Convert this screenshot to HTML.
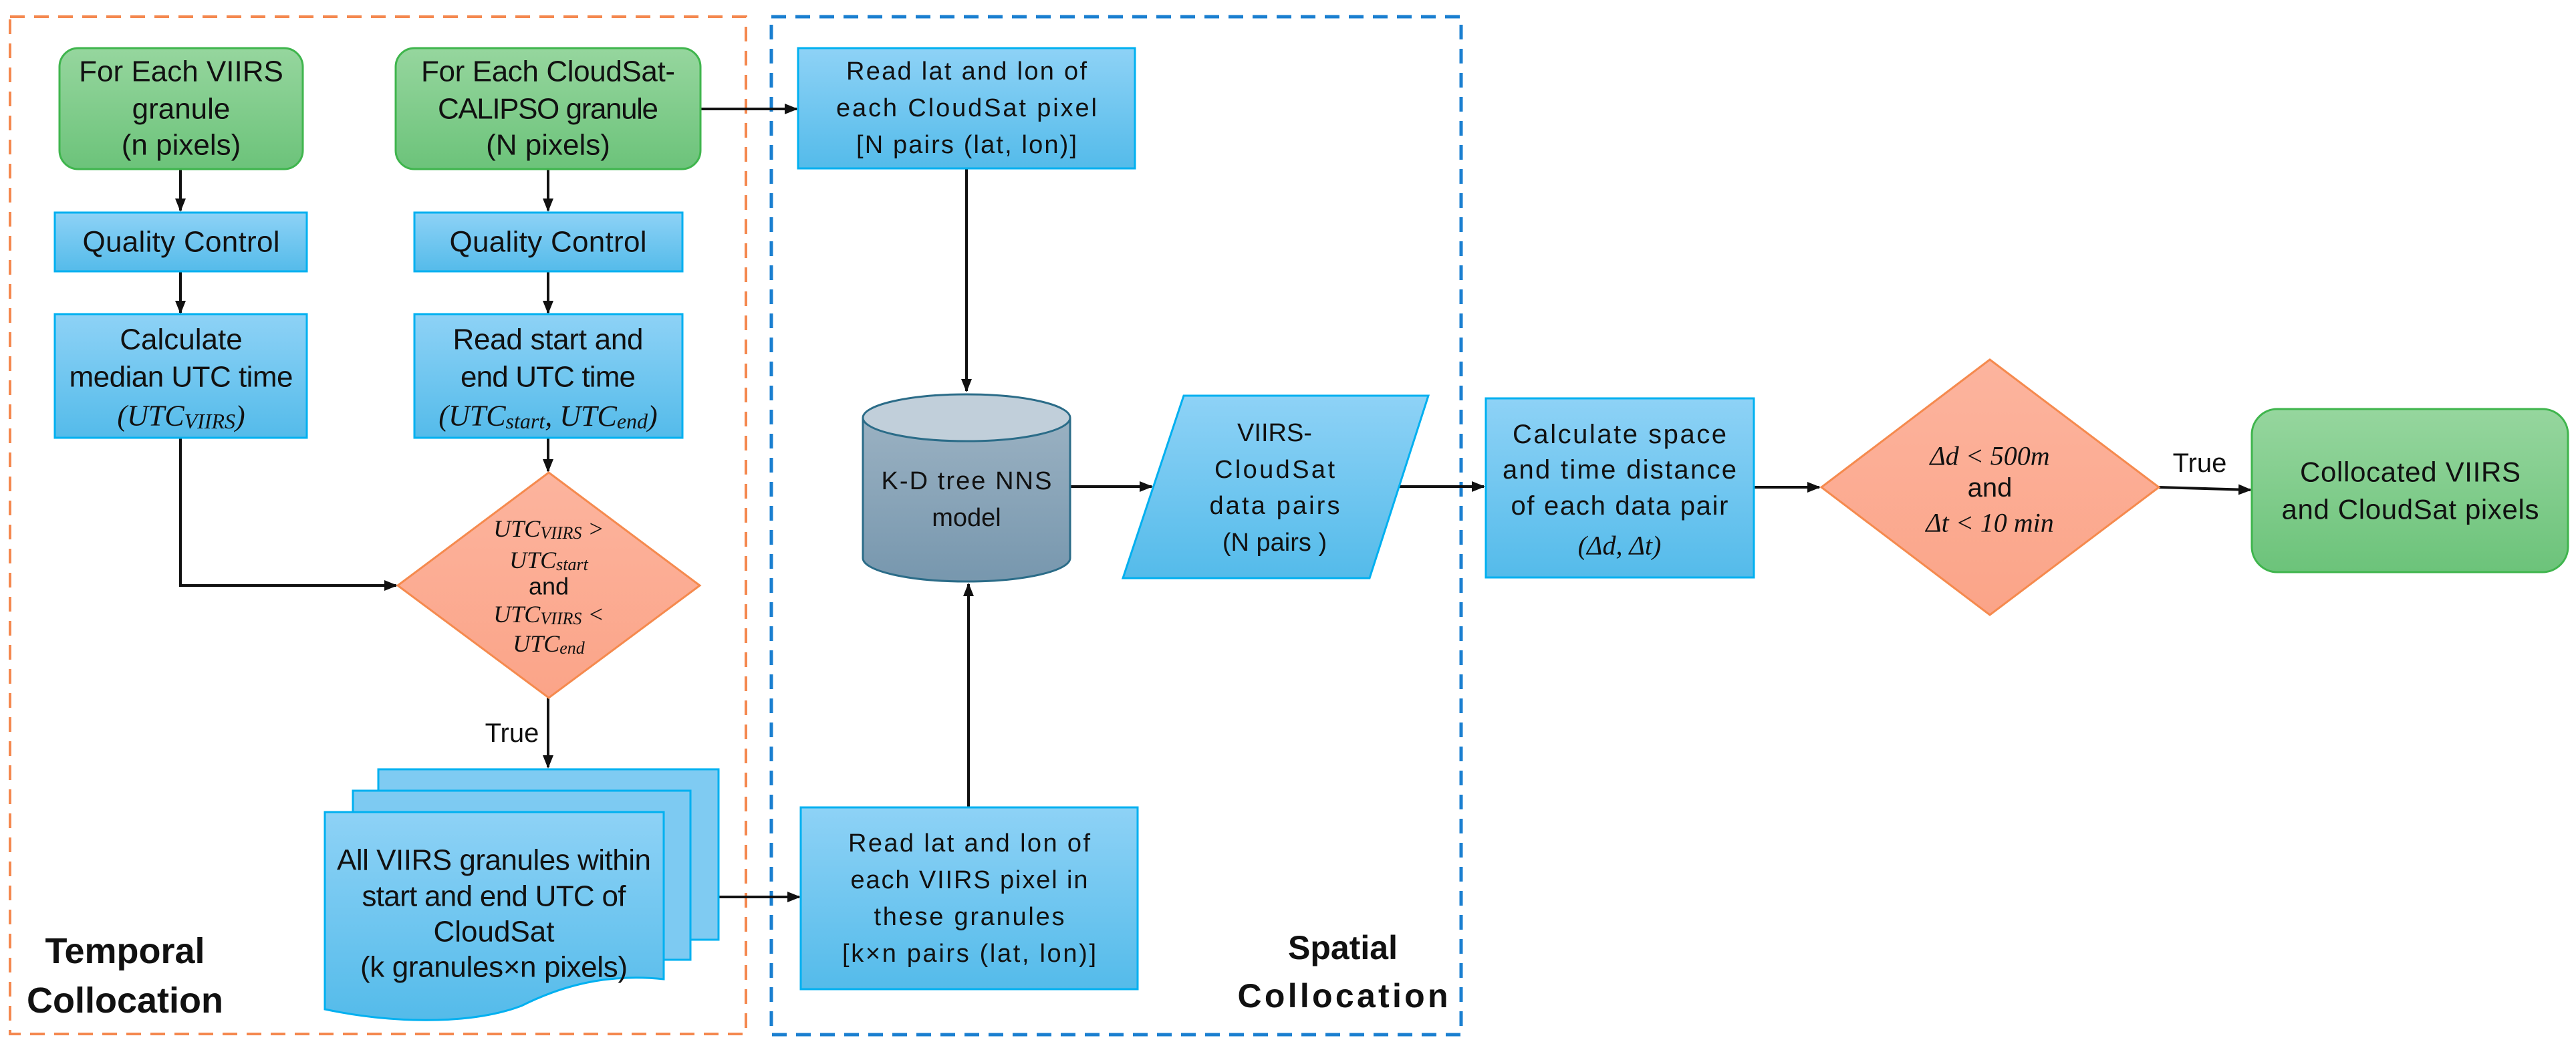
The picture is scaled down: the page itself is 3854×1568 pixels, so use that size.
<!DOCTYPE html>
<html><head><meta charset="utf-8"><style>
html,body{margin:0;padding:0;background:#fff;}
svg{display:block;}
text{font-family:"Liberation Sans",sans-serif;fill:#111;text-anchor:middle;dominant-baseline:central;}
.m{font-family:"Liberation Serif",serif;font-style:italic;}
</style></head><body>
<svg width="3854" height="1568" viewBox="0 0 3854 1568" xmlns="http://www.w3.org/2000/svg">
<defs>
<linearGradient id="gb" x1="0" y1="0" x2="0" y2="1"><stop offset="0" stop-color="#8ed2f6"/><stop offset="1" stop-color="#54bbea"/></linearGradient>
<linearGradient id="gg" x1="0" y1="0" x2="0" y2="1"><stop offset="0" stop-color="#96d69e"/><stop offset="1" stop-color="#6cc37a"/></linearGradient>
<linearGradient id="go" x1="0" y1="0" x2="0" y2="1"><stop offset="0" stop-color="#fcb49e"/><stop offset="1" stop-color="#fba488"/></linearGradient>
<linearGradient id="gc" x1="0" y1="0" x2="0" y2="1"><stop offset="0" stop-color="#9ab1c2"/><stop offset="1" stop-color="#7797ae"/></linearGradient>
<marker id="ar" viewBox="0 0 10 10" refX="9" refY="5" markerWidth="5" markerHeight="5" orient="auto"><path d="M0,1 L10,5 L0,9 z" fill="#111"/></marker>
</defs>

<!-- group borders -->
<rect x="15" y="25" width="1101" height="1522" fill="none" stroke="#f4884f" stroke-width="4" stroke-dasharray="22,14"/>
<rect x="1154" y="25" width="1032" height="1523" fill="none" stroke="#1a7fd0" stroke-width="5" stroke-dasharray="22,14"/>

<g stroke="#111" stroke-width="4" fill="none" marker-end="url(#ar)">
<line x1="270" y1="253" x2="270" y2="315"/>
<line x1="820" y1="253" x2="820" y2="315"/>
<line x1="270" y1="406" x2="270" y2="468"/>
<line x1="820" y1="406" x2="820" y2="468"/>
<line x1="820" y1="655" x2="820" y2="705"/>
<polyline points="270,655 270,876 593,876"/>
<line x1="820" y1="1044" x2="820" y2="1148"/>
<line x1="1048" y1="163" x2="1192" y2="163"/>
<line x1="1075" y1="1342" x2="1196" y2="1342"/>
<line x1="1446" y1="252" x2="1446" y2="585"/>
<line x1="1449" y1="1208" x2="1449" y2="874"/>
<line x1="1601" y1="728" x2="1723" y2="728"/>
<line x1="2093" y1="728" x2="2220" y2="728"/>
<line x1="2624" y1="729" x2="2722" y2="729"/>
<line x1="3230" y1="729" x2="3367" y2="733"/>
</g>

<!-- green starts -->
<rect x="89" y="72" width="364" height="181" rx="28" fill="url(#gg)" stroke="#3fb54d" stroke-width="3"/>
<text x="271" y="107" font-size="44">For Each VIIRS</text>
<text x="271" y="163" font-size="44">granule</text>
<text x="271" y="217" font-size="44">(n pixels)</text>
<rect x="592" y="72" width="456" height="181" rx="28" fill="url(#gg)" stroke="#3fb54d" stroke-width="3"/>
<text x="820" y="107" font-size="44" textLength="380">For Each CloudSat-</text>
<text x="820" y="163" font-size="44" textLength="330">CALIPSO granule</text>
<text x="820" y="217" font-size="44">(N pixels)</text>

<!-- QC -->
<rect x="82" y="318" width="377" height="88" fill="url(#gb)" stroke="#00b0f0" stroke-width="3"/>
<text x="271" y="362" font-size="44" textLength="295">Quality Control</text>
<rect x="620" y="318" width="401" height="88" fill="url(#gb)" stroke="#00b0f0" stroke-width="3"/>
<text x="820" y="362" font-size="44" textLength="295">Quality Control</text>

<rect x="82" y="470" width="377" height="185" fill="url(#gb)" stroke="#00b0f0" stroke-width="3"/>
<text x="271" y="508" font-size="44">Calculate</text>
<text x="271" y="564" font-size="44" textLength="335">median UTC time</text>
<text x="271" y="622" font-size="44" class="m">(UTC<tspan font-size="32" dy="8">VIIRS</tspan><tspan dy="-8">)</tspan></text>
<rect x="620" y="470" width="401" height="185" fill="url(#gb)" stroke="#00b0f0" stroke-width="3"/>
<text x="820" y="508" font-size="44" textLength="285">Read start and</text>
<text x="820" y="564" font-size="44" textLength="262">end UTC time</text>
<text x="820" y="622" font-size="44" class="m">(UTC<tspan font-size="32" dy="8">start</tspan><tspan dy="-8">, UTC</tspan><tspan font-size="32" dy="8">end</tspan><tspan dy="-8">)</tspan></text>

<!-- diamond 1 -->
<polygon points="821,707 1047,876 821,1044 595,876" fill="url(#go)" stroke="#f58a4e" stroke-width="3"/>
<text x="821" y="791" font-size="36" class="m">UTC<tspan font-size="26" dy="6">VIIRS</tspan><tspan dy="-6"> &gt;</tspan></text>
<text x="821" y="838" font-size="36" class="m">UTC<tspan font-size="26" dy="6">start</tspan></text>
<text x="821" y="877" font-size="36">and</text>
<text x="821" y="919" font-size="36" class="m">UTC<tspan font-size="26" dy="6">VIIRS</tspan><tspan dy="-6"> &lt;</tspan></text>
<text x="821" y="963" font-size="36" class="m">UTC<tspan font-size="26" dy="6">end</tspan></text>
<text x="766" y="1097" font-size="40">True</text>

<!-- document stack -->
<rect x="566" y="1151" width="509" height="255" fill="#7fcbf2" stroke="#00b0f0" stroke-width="3"/>
<rect x="528" y="1183" width="505" height="253" fill="#7dcaf2" stroke="#00b0f0" stroke-width="3"/>
<path d="M486,1215 L993,1215 L993,1465 C900,1455 830,1480 780,1505 C700,1535 580,1530 486,1510 Z" fill="url(#gb)" stroke="#00b0f0" stroke-width="3"/>
<text x="739" y="1287" font-size="44" textLength="470">All VIIRS granules within</text>
<text x="739" y="1341" font-size="44" textLength="395">start and end UTC of</text>
<text x="739" y="1394" font-size="44">CloudSat</text>
<text x="739" y="1447" font-size="44" textLength="400">(k granules×n pixels)</text>

<text x="187" y="1423" font-size="54" font-weight="bold">Temporal</text>
<text x="187" y="1497" font-size="54" font-weight="bold">Collocation</text>

<!-- spatial -->
<rect x="1194" y="72" width="504" height="180" fill="url(#gb)" stroke="#00b0f0" stroke-width="3"/>
<text x="1446" y="107" font-size="38" textLength="360">Read lat and lon of</text>
<text x="1446" y="162" font-size="38" textLength="390">each CloudSat pixel</text>
<text x="1446" y="217" font-size="38" textLength="330">[N pairs (lat, lon)]</text>

<path d="M1291,625 L1291,835 A155,35 0 0 0 1601,835 L1601,625" fill="url(#gc)" stroke="#2b6c88" stroke-width="3"/>
<ellipse cx="1446" cy="625" rx="155" ry="35" fill="#c1cfda" stroke="#2b6c88" stroke-width="3"/>
<text x="1446" y="720" font-size="38" textLength="255">K-D tree NNS</text>
<text x="1446" y="775" font-size="38">model</text>

<polygon points="1771,592 2137,592 2049,865 1680,865" fill="url(#gb)" stroke="#00b0f0" stroke-width="3"/>
<text x="1907" y="648" font-size="38">VIIRS-</text>
<text x="1907" y="703" font-size="38" textLength="180">CloudSat</text>
<text x="1907" y="757" font-size="38" textLength="195">data pairs</text>
<text x="1907" y="812" font-size="38">(N pairs )</text>

<rect x="1198" y="1208" width="504" height="272" fill="url(#gb)" stroke="#00b0f0" stroke-width="3"/>
<text x="1450" y="1262" font-size="38" textLength="362">Read lat and lon of</text>
<text x="1450" y="1317" font-size="38" textLength="355">each VIIRS pixel in</text>
<text x="1450" y="1372" font-size="38" textLength="285">these granules</text>
<text x="1450" y="1427" font-size="38" textLength="380">[k×n pairs (lat, lon)]</text>

<text x="2009" y="1418" font-size="50" font-weight="bold">Spatial</text>
<text x="2009" y="1490" font-size="50" font-weight="bold" textLength="315">Collocation</text>

<!-- right -->
<rect x="2223" y="596" width="401" height="268" fill="url(#gb)" stroke="#00b0f0" stroke-width="3"/>
<text x="2423" y="650" font-size="40" textLength="320">Calculate space</text>
<text x="2423" y="703" font-size="40" textLength="350">and time distance</text>
<text x="2423" y="757" font-size="40" textLength="325">of each data pair</text>
<text x="2423" y="816" font-size="40" class="m">(Δd, Δt)</text>

<polygon points="2977,538 3230,729 2977,920 2725,729" fill="url(#go)" stroke="#f58a4e" stroke-width="3"/>
<text x="2977" y="682" font-size="40" class="m">Δd &lt; 500m</text>
<text x="2977" y="730" font-size="40">and</text>
<text x="2977" y="782" font-size="40" class="m">Δt &lt; 10 min</text>
<text x="3291" y="693" font-size="40">True</text>

<rect x="3369" y="612" width="473" height="244" rx="38" fill="url(#gg)" stroke="#3fb54d" stroke-width="3"/>
<text x="3606" y="706" font-size="42" textLength="330">Collocated VIIRS</text>
<text x="3606" y="762" font-size="42" textLength="385">and CloudSat pixels</text>
</svg>
</body></html>
